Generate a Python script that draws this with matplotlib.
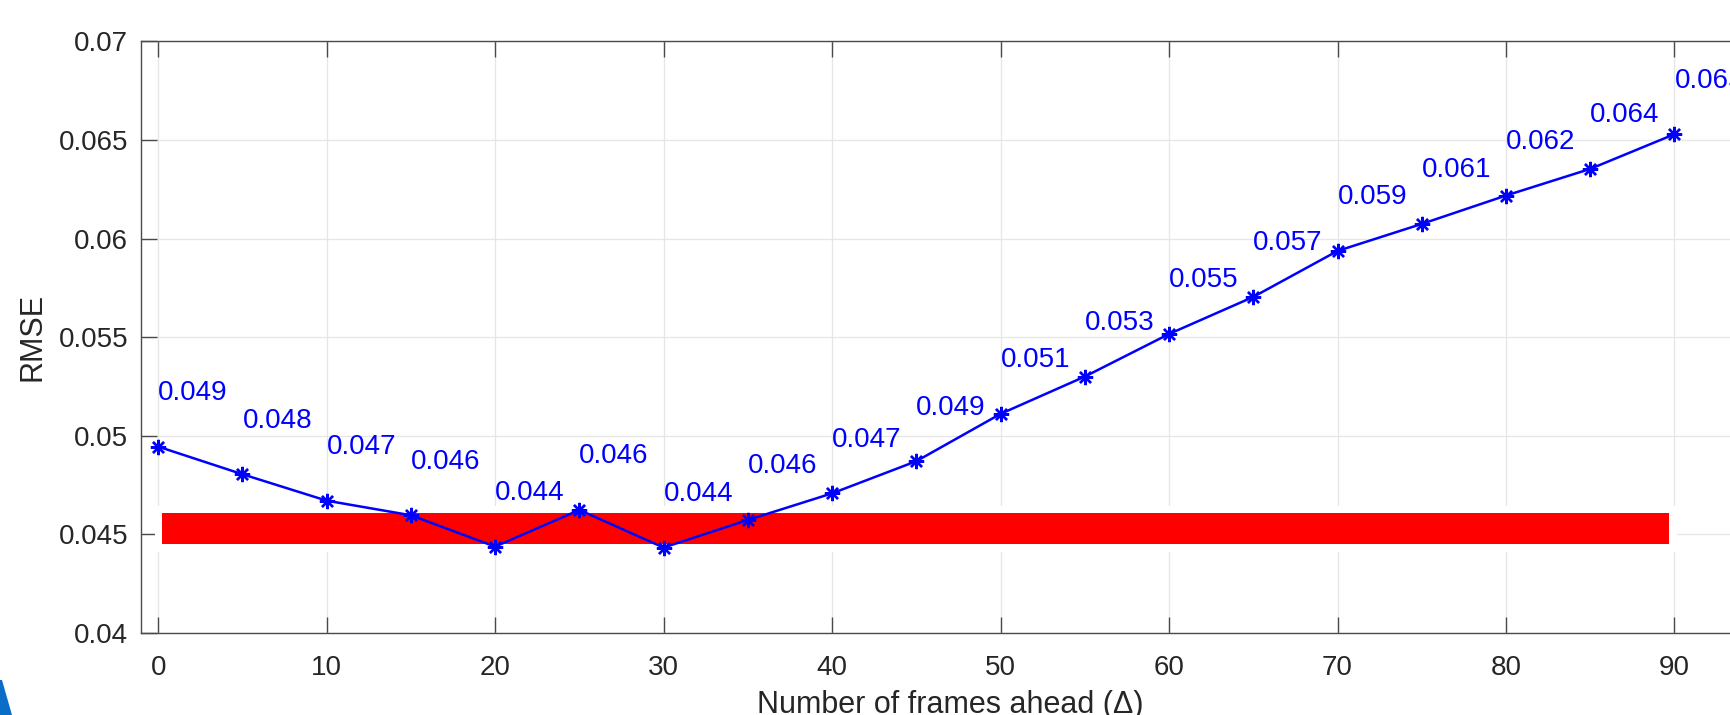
import matplotlib
matplotlib.use("Agg")
import matplotlib.pyplot as plt
from matplotlib.patches import Rectangle, Polygon

# RMSE for each prediction horizon (frames ahead)
frames_ahead = [0, 5, 10, 15, 20, 25, 30, 35, 40, 45, 50, 55, 60, 65, 70, 75, 80, 85, 90]
rmse = [0.04945, 0.04805, 0.04671, 0.04597, 0.04438, 0.04624, 0.04433, 0.04573,
        0.04708, 0.04871, 0.05111, 0.05300, 0.05516, 0.05704, 0.05937, 0.06074,
        0.06218, 0.06353, 0.06529]

# highlighted reference band
band_x = [0.2, 89.7]
band_rmse = [0.0445, 0.0461]

x_ticks = [0, 10, 20, 30, 40, 50, 60, 70, 80, 90]
y_ticks = [0.04, 0.045, 0.05, 0.055, 0.06, 0.065, 0.07]
y_tick_labels = ["0.04", "0.045", "0.05", "0.055", "0.06", "0.065", "0.07"]

plt.rcParams["font.family"] = ["Liberation Sans", "DejaVu Sans"]

W, H = 1730, 715
fig = plt.figure(figsize=(W / 100, H / 100), dpi=100)
ax = fig.add_axes([141.3 / W, (H - 633) / H, (1758.7 - 141.3) / W, (633 - 41.3) / H])

axis_color = "#4a4a4a"
text_color = "#262626"

ax.set_xlim(-1, 95)
ax.set_ylim(0.04, 0.07)
ax.set_xticks(x_ticks)
ax.set_xticklabels([str(t) for t in x_ticks])
ax.set_yticks(y_ticks)
ax.set_yticklabels(y_tick_labels)

ax.set_axisbelow(True)
ax.grid(True, color="#e6e6e6", linewidth=0.9)

for sp in ax.spines.values():
    sp.set_color(axis_color)
    sp.set_linewidth(1.0)

ax.tick_params(axis="both", direction="in", length=11.5, width=1.0,
               color=axis_color, labelsize=20, labelcolor=text_color,
               top=True, right=True)
ax.tick_params(axis="x", pad=15.5)
ax.tick_params(axis="y", pad=9.5)

# band with a white surround that interrupts the grid
bx0, bx1 = band_x
by0, by1 = band_rmse
ax.add_patch(Rectangle((bx0, by0), bx1 - bx0, by1 - by0, facecolor="white",
                       edgecolor="white", linewidth=10.8, zorder=1.2))
ax.add_patch(Rectangle((bx0, by0), bx1 - bx0, by1 - by0, facecolor="#ff0000",
                       edgecolor="none", zorder=1.3))

ax.plot(frames_ahead, rmse, color="#0000ff", linewidth=1.8,
        marker=(8, 2, 0), markersize=11, markeredgewidth=1.7, zorder=3)

for x, v in zip(frames_ahead, rmse):
    ax.text(x, v + 0.00236, f"{v:.3f}", color="#0000ff", fontsize=20,
            ha="left", va="baseline", zorder=4)

ax.set_xlabel("Number of frames ahead (\u0394)", fontsize=22, color=text_color, labelpad=7)
ax.set_ylabel("RMSE", fontsize=22, color=text_color, labelpad=8)

# corner decoration
fig.patches.append(Polygon([(0, 0), (12 / W, 0), (2 / W, 35 / H), (0, 35 / H)],
                           closed=True, transform=fig.transFigure,
                           facecolor="#0a6ec8", edgecolor="none"))

fig.savefig("out.png", dpi=100)
